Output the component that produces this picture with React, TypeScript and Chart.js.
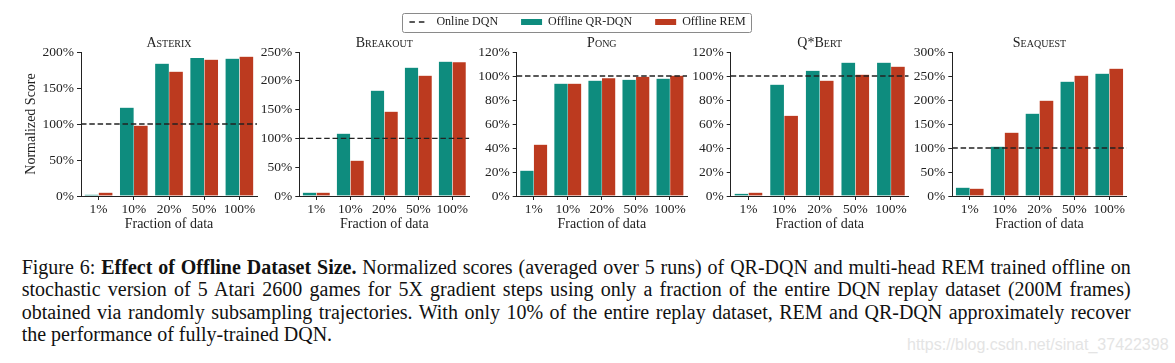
import React, { useEffect, useRef } from 'react';
import { Chart, registerables } from 'chart.js';

Chart.register(...registerables);

// ---------- data ----------
const categories = ['1%', '10%', '20%', '50%', '100%'];
const gameTitles = ['Asterix', 'Breakout', 'Pong', 'Q*Bert', 'Seaquest'];
const seriesLabels = ['Online DQN', 'Offline QR-DQN', 'Offline REM'];
const onlineDQN = 100;

const asterixQR = [1.9, 122.7, 183.8, 191.7, 190.7];
const asterixREM = [4.6, 97.7, 172.7, 189.4, 193.5];
const breakoutQR = [5.8, 108.2, 182.9, 222.8, 233.2];
const breakoutREM = [5.8, 61.3, 146.4, 208.9, 232.1];
const pongQR = [21.1, 93.6, 96.1, 96.9, 97.8];
const pongREM = [42.8, 93.6, 98.1, 99.4, 100.3];
const qbertQR = [1.9, 92.8, 104.4, 111.1, 111.1];
const qbertREM = [2.8, 66.9, 96.1, 101.1, 107.8];
const seaquestQR = [17.4, 102.8, 171.5, 238.2, 254.9];
const seaquestREM = [15.3, 131.9, 198.6, 250.7, 265.3];

const qrDqnScores = [asterixQR, breakoutQR, pongQR, qbertQR, seaquestQR];
const remScores = [asterixREM, breakoutREM, pongREM, qbertREM, seaquestREM];

const yMax = [200, 250, 120, 120, 300];
const yStep = [50, 50, 20, 20, 50];

const xAxisTitle = 'Fraction of data';
const yAxisTitle = 'Normalized Score';

// ---------- styles / layout ----------
const qrColor = '#0e8c7e';
const remColor = '#bc3a1f';
const inkColor = '#222222';
const serif = "'Liberation Serif', 'Times New Roman', serif";

const CANVAS_H = 240;
const PLOT_TOP = 52;
const PLOT_BOTTOM = 196;
const TITLE_SIZE = 14;
const TITLE_LINE = TITLE_SIZE * 1.2;
const X_AXIS_H = 36.4;
const LEGEND_BOTTOM = 38;

const panels = [
  { canvasLeft: 0, canvasWidth: 260, plotLeft: 81, plotRight: 257, barWidth: 14 },
  { canvasLeft: 258, canvasWidth: 214, plotLeft: 299.3, plotRight: 469.3, barWidth: 13.6 },
  { canvasLeft: 380, canvasWidth: 395, plotLeft: 516.7, plotRight: 687, barWidth: 13.6 },
  { canvasLeft: 690, canvasWidth: 221, plotLeft: 730.7, plotRight: 908.7, barWidth: 14 },
  { canvasLeft: 911, canvasWidth: 220, plotLeft: 952.3, plotRight: 1126.7, barWidth: 14 },
];
const legendPanel = 2;

const legendFrame = {
  id: 'legendFrame',
  afterDraw(chart: any) {
    const lg = chart.legend;
    if (!lg || !lg.options.display || !lg.legendHitBoxes?.length) return;
    const hb = lg.legendHitBoxes;
    const left = Math.min(...hb.map((b: any) => b.left)) - 7.5;
    const right = Math.max(...hb.map((b: any) => b.left + b.width)) + 5;
    const top = Math.min(...hb.map((b: any) => b.top)) - 3.5;
    const bottom = Math.max(...hb.map((b: any) => b.top + b.height)) + 3.5;
    const ctx = chart.ctx;
    ctx.save();
    ctx.strokeStyle = '#8a8a8a';
    ctx.lineWidth = 1;
    ctx.beginPath();
    const x0 = Math.round(left) + 0.5;
    const y0 = Math.round(top) + 0.5;
    const w = Math.round(right - left);
    const h = Math.round(bottom - top);
    if ((ctx as any).roundRect) (ctx as any).roundRect(x0, y0, w, h, 2);
    else ctx.rect(x0, y0, w, h);
    ctx.stroke();
    ctx.restore();
  },
};

function buildConfig(i: number): any {
  const p = panels[i];
  const isLegend = i === legendPanel;
  const yWidth = p.plotLeft - p.canvasLeft;
  const rightSpace = p.canvasLeft + p.canvasWidth - p.plotRight;
  const legendHeight = 12 + 23 + 10;
  const scales: any = {
    x: {
      type: 'category',
      offset: true,
      grid: { display: true, drawOnChartArea: false, drawTicks: true, tickLength: 4, offset: false, color: inkColor, lineWidth: 1 },
      border: { display: true, color: inkColor, width: 1 },
      ticks: { color: inkColor, font: { family: serif, size: 13.5 }, padding: 1, maxRotation: 0, autoSkip: false },
      title: { display: true, text: xAxisTitle, color: inkColor, font: { family: serif, size: 14, lineHeight: 1.2 }, padding: { top: 0, bottom: 0 } },
      afterFit: (s: any) => { s.height = X_AXIS_H; },
    },
    x2: {
      type: 'linear',
      display: false,
      offset: false,
      grid: { offset: false },
      bounds: 'data',
      min: -0.5,
      max: categories.length - 0.5,
    },
    y: {
      type: 'linear',
      position: 'left',
      min: 0,
      max: yMax[i],
      grid: { display: true, drawOnChartArea: false, drawTicks: true, tickLength: 4, color: inkColor, lineWidth: 1 },
      border: { display: true, color: inkColor, width: 1 },
      ticks: { stepSize: yStep[i], color: inkColor, font: { family: serif, size: 13.5 }, padding: 3, callback: (v: any) => v + '%' },
      title: i === 0
        ? { display: true, text: yAxisTitle, color: inkColor, font: { family: serif, size: 14, lineHeight: 1.2 }, padding: { top: 22.9, bottom: 0 } }
        : { display: false },
      afterFit: (s: any) => { s.width = yWidth; },
    },
  };
  if (isLegend) {
    scales.yR = {
      type: 'linear',
      position: 'right',
      display: true,
      grid: { display: false },
      border: { display: false },
      ticks: { display: false },
      afterFit: (s: any) => { s.width = rightSpace; },
    };
  }
  const barStyle = {
    barThickness: p.barWidth,
    borderWidth: { top: 0, bottom: 0, left: 0.5, right: 0.5 },
    borderColor: '#ffffff',
    borderSkipped: 'bottom',
  };
  return {
    type: 'bar',
    data: {
      labels: categories,
      datasets: [
        {
          type: 'line',
          label: seriesLabels[0],
          data: [
            { x: -0.5, y: onlineDQN },
            { x: categories.length - 0.5, y: onlineDQN },
          ],
          xAxisID: 'x2',
          yAxisID: 'y',
          borderColor: inkColor,
          borderWidth: 1.3,
          borderDash: [5.5, 2.8],
          pointRadius: 0,
          fill: false,
        },
        { label: seriesLabels[1], data: qrDqnScores[i], backgroundColor: qrColor, ...barStyle },
        { label: seriesLabels[2], data: remScores[i], backgroundColor: remColor, ...barStyle },
      ],
    },
    options: {
      responsive: false,
      animation: false,
      devicePixelRatio: 1,
      layout: {
        padding: {
          left: 0,
          right: isLegend ? 0 : rightSpace,
          top: isLegend ? LEGEND_BOTTOM - legendHeight : PLOT_TOP - TITLE_LINE,
          bottom: CANVAS_H - PLOT_BOTTOM - X_AXIS_H,
        },
      },
      plugins: {
        tooltip: { enabled: false },
        title: {
          display: true,
          text: gameTitles[i],
          fullSize: false,
          color: inkColor,
          font: { family: serif, size: TITLE_SIZE, weight: 'small-caps', lineHeight: 1.2 },
          padding: isLegend
            ? { top: PLOT_TOP - LEGEND_BOTTOM - TITLE_LINE, bottom: 0 }
            : { top: 0, bottom: 0 },
        },
        legend: {
          display: isLegend,
          position: 'top',
          weight: 3000,
          labels: {
            usePointStyle: true,
            pointStyleWidth: 21,
            boxHeight: 6,
            padding: 23,
            color: inkColor,
            font: { family: serif, size: 12 },
            generateLabels: (chart: any) =>
              chart.data.datasets.map((ds: any, k: number) => ({
                text: ds.label,
                fillStyle: ds.type === 'line' ? 'rgba(0,0,0,0)' : ds.backgroundColor,
                strokeStyle: ds.type === 'line' ? ds.borderColor : ds.backgroundColor,
                lineWidth: ds.type === 'line' ? 1.3 : 0,
                lineDash: ds.type === 'line' ? [5.5, 4, 5.5, 100] : [],
                pointStyle: ds.type === 'line' ? 'line' : 'rect',
                hidden: false,
                datasetIndex: k,
                fontColor: inkColor,
              })),
          },
        },
      },
      scales,
    },
    plugins: isLegend ? [legendFrame] : [],
  };
}

function Panel({ index }: { index: number }) {
  const ref = useRef<HTMLCanvasElement | null>(null);
  useEffect(() => {
    if (!ref.current) return;
    const chart = new Chart(ref.current, buildConfig(index));
    return () => chart.destroy();
  }, [index]);
  const p = panels[index];
  return (
    <canvas
      ref={ref}
      width={p.canvasWidth}
      height={CANVAS_H}
      style={{ position: 'absolute', left: p.canvasLeft, top: 0, width: p.canvasWidth, height: CANVAS_H }}
    />
  );
}

const captionLines: React.ReactNode[] = [
  <>Figure 6: <b>Effect of Offline Dataset Size.</b> Normalized scores (averaged over 5 runs) of QR-DQN and multi-head REM trained offline on</>,
  <>stochastic version of 5 Atari 2600 games for 5X gradient steps using only a fraction of the entire DQN replay dataset (200M frames)</>,
  <>obtained via randomly subsampling trajectories. With only 10% of the entire replay dataset, REM and QR-DQN approximately recover</>,
  <>the performance of fully-trained DQN.</>,
];

export default function App() {
  return (
    <div style={{ position: 'absolute', left: 0, top: 0, width: 1175, height: 363, background: '#fff', overflow: 'hidden' }}>
      {panels.map((_, i) => (
        <Panel key={i} index={i} />
      ))}
      <div style={{ position: 'absolute', left: 21.7, top: 256, width: 1109, fontFamily: serif, fontSize: 20, lineHeight: '22.4px', color: '#111' }}>
        {captionLines.map((line, k) => (
          <div
            key={k}
            style={{
              whiteSpace: 'nowrap',
              textAlign: 'justify',
              textAlignLast: k < captionLines.length - 1 ? 'justify' : 'left',
            }}
          >
            {line}
          </div>
        ))}
      </div>
      <div style={{ position: 'absolute', left: 907, top: 336.5, fontFamily: "'Liberation Sans', Arial, sans-serif", fontSize: 16, lineHeight: '16px', color: '#e4e4e4', whiteSpace: 'nowrap' }}>
        https://blog.csdn.net/sinat_37422398
      </div>
    </div>
  );
}
